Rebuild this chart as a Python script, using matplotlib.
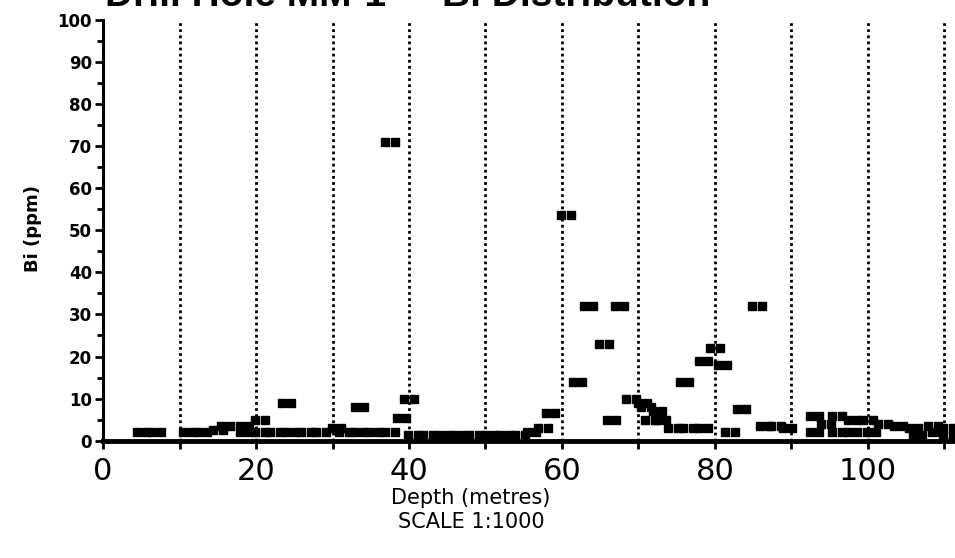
import matplotlib.pyplot as plt

# Bi assay samples: depth (m, interval centre) and Bi (ppm)
depth = [5, 7, 11, 13, 15, 16, 18.5, 18.5,
         20.5, 20.5, 22.5, 24, 24.5, 26.5, 28.5,
         30.5, 31.5, 33.5, 33.5, 35.5, 37.5, 37.5, 39, 40,
         40.5, 42.5, 44.5, 46.5, 48.5, 50.5, 52.5, 54.5, 56, 57.5, 58.5,
         60.5, 62, 63.5, 65.5, 66.5, 67.5, 69,
         70.5, 71, 71.5, 72.5, 73, 74.5, 76, 76.5, 78.5, 78.5,
         80, 81, 82, 83.5, 85.5, 86.5, 88, 89.5,
         93, 93, 94.5, 96, 96, 98, 98, 100, 100.5,
         102, 104, 106, 106.5, 108.5, 109, 110.5, 110.5]
bi_ppm = [2, 2, 2, 2, 2.5, 3.5, 3.5, 2,
          5, 2, 2, 9, 2, 2, 2,
          3, 2, 8, 2, 2, 71, 2, 5.5, 10,
          1.5, 1.5, 1.5, 1.5, 1.5, 1.5, 1.5, 1.5, 2, 3, 6.5,
          53.5, 14, 32, 23, 5, 32, 10,
          9, 8, 5, 7, 5, 3, 14, 3, 3, 19,
          22, 18, 2, 7.5, 32, 3.5, 3.5, 3,
          6, 2, 4, 6, 2, 5, 2, 5, 2,
          4, 3.5, 3, 1.5, 3.5, 2, 3, 1.5]

grid_depths = [10, 20, 30, 40, 50, 60, 70, 80, 90, 100, 110]
x_labels = [0, 20, 40, 60, 80, 100]
y_labels = list(range(0, 101, 10))

fig = plt.figure(figsize=(9.55, 5.58), dpi=100)
ax = fig.add_axes([0.108, 0.21, 0.892, 0.755])

# vertical dotted reference lines
for d in grid_depths:
    ax.axvline(d, color='black', linestyle=(0, (1, 1.2)), linewidth=2.0, zorder=1)

# each sample drawn as a pair of square blocks across its interval
left = [d - 0.62 for d in depth]
right = [d + 0.62 for d in depth]
ax.plot(left, bi_ppm, 's', color='black', markersize=5.4, zorder=3)
ax.plot(right, bi_ppm, 's', color='black', markersize=5.4, zorder=3)

ax.set_xlim(0, 111.4)
ax.set_ylim(0, 100)
ax.spines['top'].set_visible(False)
ax.spines['right'].set_visible(False)
ax.spines['left'].set_linewidth(2.2)
ax.spines['bottom'].set_linewidth(3.5)

ax.set_xticks(grid_depths, minor=True)
ax.set_xticks(x_labels)
ax.set_xticklabels([str(v) for v in x_labels], fontsize=22,
                   family=['Liberation Sans Narrow', 'DejaVu Sans'])
ax.set_yticks(y_labels)
ax.set_yticklabels([str(v) for v in y_labels], fontsize=12, fontweight='bold',
                   family=['Liberation Sans Narrow', 'DejaVu Sans'])
ax.set_yticks(range(5, 100, 10), minor=True)
ax.tick_params(axis='y', which='major', length=6, width=2, pad=2)
ax.tick_params(axis='y', which='minor', length=4, width=2)
ax.tick_params(axis='x', which='both', length=6, width=2, pad=6)

fig.text(0.035, 0.59, 'Bi (ppm)', rotation=90, ha='center', va='center',
         fontsize=13, fontweight='bold', family=['Liberation Sans Narrow', 'DejaVu Sans'])
fig.text(0.493, 0.108, 'Depth (metres)', ha='center', va='center', fontsize=15,
         family=['Liberation Sans Narrow', 'DejaVu Sans'])
fig.text(0.493, 0.064, 'SCALE 1:1000', ha='center', va='center', fontsize=15,
         family=['Liberation Sans Narrow', 'DejaVu Sans'])

# title sits mostly above the top edge, as in the original
fig.text(0.11, 0.99, 'Drill Hole MM-1  -  Bi Distribution', ha='left', va='baseline',
         fontsize=28, fontweight='bold', family=['Liberation Sans', 'DejaVu Sans'])

fig.savefig('out.png', dpi=100)
